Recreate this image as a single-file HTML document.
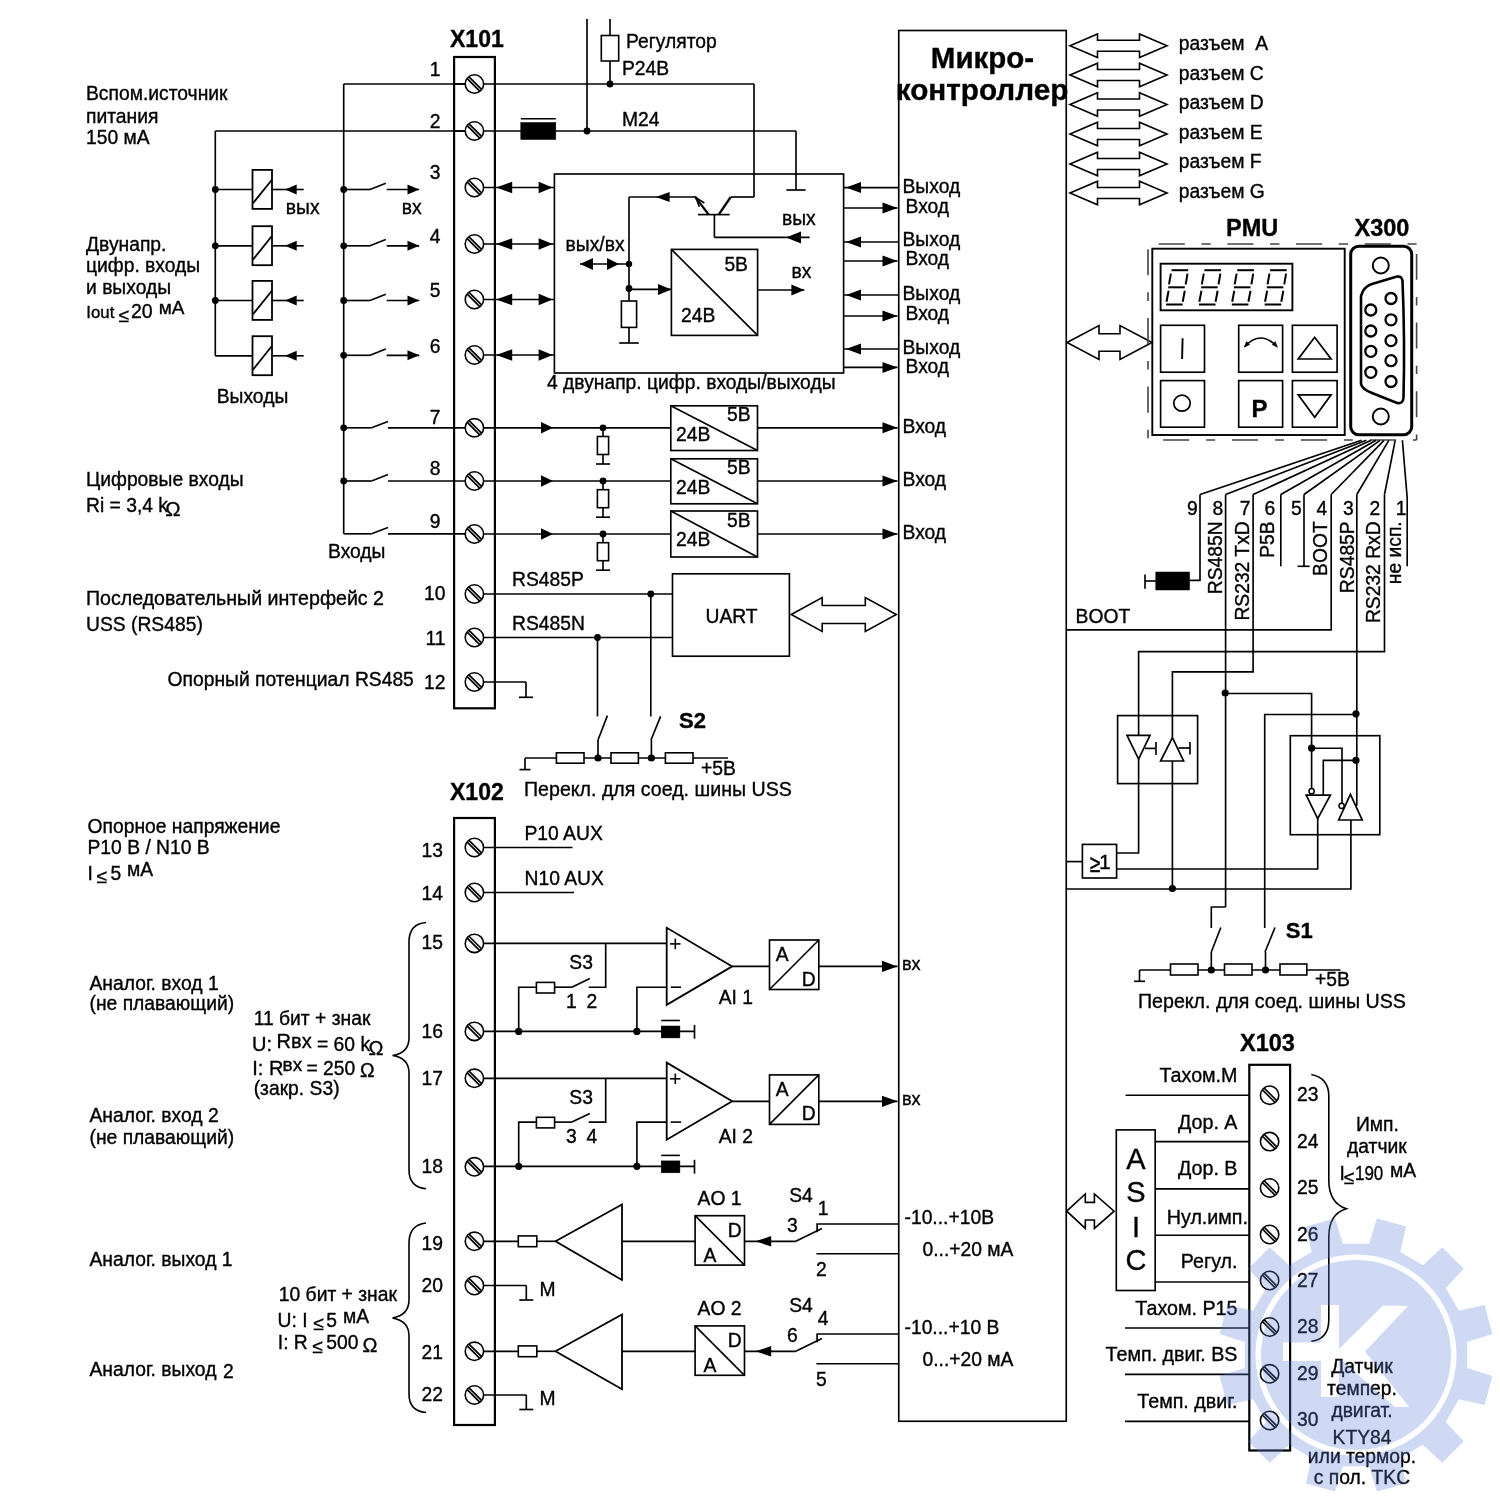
<!DOCTYPE html>
<html><head><meta charset="utf-8"><style>
html,body{margin:0;padding:0;background:#fff;}
svg{display:block;will-change:transform;}
text{font-family:"Liberation Sans",sans-serif;fill:#000;stroke:#000;stroke-width:0.35px;}
</style></head><body>
<svg width="1500" height="1500" viewBox="0 0 1500 1500">
<rect x="0" y="0" width="1500" height="1500" fill="#fff"/>
<g fill="none" stroke="#000" stroke-width="1.65" stroke-linecap="butt">
<text x="86" y="100" font-size="19.3">Вспом.источник</text>
<text x="86" y="122.7" font-size="19.3">питания</text>
<text x="86" y="144" font-size="19.3">150 мА</text>
<text x="86" y="250.7" font-size="19.3">Двунапр.</text>
<text x="86" y="272" font-size="19.3">цифр. входы</text>
<text x="86" y="293.5" font-size="19.3">и выходы</text>
<text x="86.3" y="318" font-size="16.8">Iout</text>
<text x="118.4" y="321.6" font-size="19">≤</text>
<text x="131" y="318.4" font-size="19.5">20</text>
<text x="158.8" y="314.4" font-size="19">мА</text>
<text x="216.7" y="403.3" font-size="19.3">Выходы</text>
<text x="86" y="486" font-size="19.3">Цифровые входы</text>
<text x="86" y="512" font-size="19.3">Ri = 3,4 k</text>
<text x="165.3" y="516" font-size="20.5" font-family="Liberation Serif">Ω</text>
<text x="328" y="557.6" font-size="19.3">Входы</text>
<text x="86" y="605" font-size="19.6">Последовательный интерфейс 2</text>
<text x="86" y="630.5" font-size="19.3">USS (RS485)</text>
<text x="167.5" y="686" font-size="19.3">Опорный потенциал RS485</text>
<text x="450" y="47" font-size="23" font-weight="bold">X101</text>
<rect x="454.1" y="57" width="40.8" height="651.3" stroke-width="2.2"/>
<text x="440.5" y="76" font-size="19.3" text-anchor="end">1</text>
<text x="440.5" y="127.5" font-size="19.3" text-anchor="end">2</text>
<text x="440.5" y="179" font-size="19.3" text-anchor="end">3</text>
<text x="440.5" y="243" font-size="19.3" text-anchor="end">4</text>
<text x="440.5" y="297" font-size="19.3" text-anchor="end">5</text>
<text x="440.5" y="352.5" font-size="19.3" text-anchor="end">6</text>
<text x="440.5" y="424" font-size="19.3" text-anchor="end">7</text>
<text x="440.5" y="475" font-size="19.3" text-anchor="end">8</text>
<text x="440.5" y="527.5" font-size="19.3" text-anchor="end">9</text>
<text x="445.5" y="600" font-size="19.3" text-anchor="end">10</text>
<text x="445.5" y="645" font-size="19.3" text-anchor="end">11</text>
<text x="445.5" y="688.5" font-size="19.3" text-anchor="end">12</text>
<line x1="343.7" y1="84" x2="754" y2="84"/>
<line x1="754" y1="84" x2="754" y2="197"/>
<line x1="610" y1="19" x2="610" y2="35.5"/>
<rect x="601.3" y="35.5" width="17.4" height="25.5" stroke-width="1.6" fill="#fff"/>
<line x1="610" y1="61" x2="610" y2="84"/>
<circle cx="610" cy="84" r="3.4" fill="#000" stroke="none"/>
<text x="626" y="47.5" font-size="19.3">Регулятор</text>
<text x="622" y="75" font-size="19.3">P24B</text>
<line x1="215.3" y1="131" x2="796" y2="131"/>
<line x1="796" y1="131" x2="796" y2="190"/>
<line x1="786.4" y1="190" x2="805.6" y2="190"/>
<line x1="587" y1="19" x2="587" y2="131"/>
<circle cx="587" cy="131" r="3.4" fill="#000" stroke="none"/>
<text x="622" y="126" font-size="19.3">M24</text>
<rect x="520.8" y="122.5" width="35" height="17" stroke-width="0.5" fill="#000"/>
<line x1="520.8" y1="118.8" x2="555.8" y2="118.8" stroke-width="1.5"/>
<line x1="215.3" y1="131" x2="215.3" y2="355.8"/>
<line x1="215.3" y1="355.8" x2="252.5" y2="355.8"/>
<circle cx="215.3" cy="189.5" r="3.4" fill="#000" stroke="none"/>
<line x1="215.3" y1="189.5" x2="252.5" y2="189.5"/>
<circle cx="215.3" cy="245.8" r="3.4" fill="#000" stroke="none"/>
<line x1="215.3" y1="245.8" x2="252.5" y2="245.8"/>
<circle cx="215.3" cy="300.5" r="3.4" fill="#000" stroke="none"/>
<line x1="215.3" y1="300.5" x2="252.5" y2="300.5"/>
<rect x="252.5" y="169.9" width="19.5" height="39" stroke-width="1.8"/>
<line x1="253" y1="203.3" x2="271.7" y2="180" stroke-width="1.8"/>
<line x1="272" y1="189.5" x2="303.7" y2="189.5"/>
<polygon points="285,189.5 296.7,184.5 296.7,194.5" fill="#000" stroke="none"/>
<rect x="252.5" y="226.2" width="19.5" height="39" stroke-width="1.8"/>
<line x1="253" y1="259.6" x2="271.7" y2="236.3" stroke-width="1.8"/>
<line x1="272" y1="245.8" x2="303.7" y2="245.8"/>
<polygon points="285,245.8 296.7,240.8 296.7,250.8" fill="#000" stroke="none"/>
<rect x="252.5" y="280.9" width="19.5" height="39" stroke-width="1.8"/>
<line x1="253" y1="314.3" x2="271.7" y2="291" stroke-width="1.8"/>
<line x1="272" y1="300.5" x2="303.7" y2="300.5"/>
<polygon points="285,300.5 296.7,295.5 296.7,305.5" fill="#000" stroke="none"/>
<rect x="252.5" y="336.2" width="19.5" height="39" stroke-width="1.8"/>
<line x1="253" y1="369.6" x2="271.7" y2="346.3" stroke-width="1.8"/>
<line x1="272" y1="355.8" x2="303.7" y2="355.8"/>
<polygon points="285,355.8 296.7,350.8 296.7,360.8" fill="#000" stroke="none"/>
<text x="285.8" y="213.7" font-size="19.3">вых</text>
<line x1="343.7" y1="84" x2="343.7" y2="533.8"/>
<circle cx="343.7" cy="189.5" r="3.4" fill="#000" stroke="none"/>
<line x1="343.7" y1="189.5" x2="370" y2="189.5"/>
<line x1="370" y1="189.5" x2="385.8" y2="183.3"/>
<line x1="386.7" y1="189.5" x2="419.2" y2="189.5"/>
<polygon points="419.2,189.5 407.5,184.5 407.5,194.5" fill="#000" stroke="none"/>
<circle cx="343.7" cy="245.8" r="3.4" fill="#000" stroke="none"/>
<line x1="343.7" y1="245.8" x2="370" y2="245.8"/>
<line x1="370" y1="245.8" x2="385.8" y2="239.6"/>
<line x1="386.7" y1="245.8" x2="419.2" y2="245.8"/>
<polygon points="419.2,245.8 407.5,240.8 407.5,250.8" fill="#000" stroke="none"/>
<circle cx="343.7" cy="300.5" r="3.4" fill="#000" stroke="none"/>
<line x1="343.7" y1="300.5" x2="370" y2="300.5"/>
<line x1="370" y1="300.5" x2="385.8" y2="294.3"/>
<line x1="386.7" y1="300.5" x2="419.2" y2="300.5"/>
<polygon points="419.2,300.5 407.5,295.5 407.5,305.5" fill="#000" stroke="none"/>
<circle cx="343.7" cy="355.3" r="3.4" fill="#000" stroke="none"/>
<line x1="343.7" y1="355.3" x2="370" y2="355.3"/>
<line x1="370" y1="355.3" x2="385.8" y2="349.1"/>
<line x1="386.7" y1="355.3" x2="419.2" y2="355.3"/>
<polygon points="419.2,355.3 407.5,350.3 407.5,360.3" fill="#000" stroke="none"/>
<text x="401.7" y="214" font-size="19.3">вх</text>
<circle cx="343.7" cy="427.8" r="3.4" fill="#000" stroke="none"/>
<line x1="343.7" y1="427.8" x2="371.6" y2="427.8"/>
<line x1="371.6" y1="427.8" x2="388" y2="421.4"/>
<line x1="388" y1="427.8" x2="466" y2="427.8"/>
<circle cx="343.7" cy="481" r="3.4" fill="#000" stroke="none"/>
<line x1="343.7" y1="481" x2="371.6" y2="481"/>
<line x1="371.6" y1="481" x2="388" y2="474.6"/>
<line x1="388" y1="481" x2="466" y2="481"/>
<line x1="343.7" y1="533.8" x2="371.6" y2="533.8"/>
<line x1="371.6" y1="533.8" x2="388" y2="527.4"/>
<line x1="388" y1="533.8" x2="466" y2="533.8"/>
<line x1="343.7" y1="533.8" x2="343.7" y2="533.8"/>
<circle cx="474.4" cy="84" r="9.2" stroke-width="1.6" fill="#fff"/>
<line x1="467.26" y1="78.63" x2="479.77" y2="91.14" stroke-width="1.7"/>
<line x1="469.03" y1="76.86" x2="481.54" y2="89.37" stroke-width="1.7"/>
<circle cx="474.4" cy="131" r="9.2" stroke-width="1.6" fill="#fff"/>
<line x1="467.26" y1="125.63" x2="479.77" y2="138.14" stroke-width="1.7"/>
<line x1="469.03" y1="123.86" x2="481.54" y2="136.37" stroke-width="1.7"/>
<circle cx="474.4" cy="187.5" r="9.2" stroke-width="1.6" fill="#fff"/>
<line x1="467.26" y1="182.13" x2="479.77" y2="194.64" stroke-width="1.7"/>
<line x1="469.03" y1="180.36" x2="481.54" y2="192.87" stroke-width="1.7"/>
<circle cx="474.4" cy="244" r="9.2" stroke-width="1.6" fill="#fff"/>
<line x1="467.26" y1="238.63" x2="479.77" y2="251.14" stroke-width="1.7"/>
<line x1="469.03" y1="236.86" x2="481.54" y2="249.37" stroke-width="1.7"/>
<circle cx="474.4" cy="299.5" r="9.2" stroke-width="1.6" fill="#fff"/>
<line x1="467.26" y1="294.13" x2="479.77" y2="306.64" stroke-width="1.7"/>
<line x1="469.03" y1="292.36" x2="481.54" y2="304.87" stroke-width="1.7"/>
<circle cx="474.4" cy="355" r="9.2" stroke-width="1.6" fill="#fff"/>
<line x1="467.26" y1="349.63" x2="479.77" y2="362.14" stroke-width="1.7"/>
<line x1="469.03" y1="347.86" x2="481.54" y2="360.37" stroke-width="1.7"/>
<circle cx="474.4" cy="427.8" r="9.2" stroke-width="1.6" fill="#fff"/>
<line x1="467.26" y1="422.43" x2="479.77" y2="434.94" stroke-width="1.7"/>
<line x1="469.03" y1="420.66" x2="481.54" y2="433.17" stroke-width="1.7"/>
<circle cx="474.4" cy="481" r="9.2" stroke-width="1.6" fill="#fff"/>
<line x1="467.26" y1="475.63" x2="479.77" y2="488.14" stroke-width="1.7"/>
<line x1="469.03" y1="473.86" x2="481.54" y2="486.37" stroke-width="1.7"/>
<circle cx="474.4" cy="534" r="9.2" stroke-width="1.6" fill="#fff"/>
<line x1="467.26" y1="528.63" x2="479.77" y2="541.14" stroke-width="1.7"/>
<line x1="469.03" y1="526.86" x2="481.54" y2="539.37" stroke-width="1.7"/>
<circle cx="474.4" cy="594" r="9.2" stroke-width="1.6" fill="#fff"/>
<line x1="467.26" y1="588.63" x2="479.77" y2="601.14" stroke-width="1.7"/>
<line x1="469.03" y1="586.86" x2="481.54" y2="599.37" stroke-width="1.7"/>
<circle cx="474.4" cy="637.5" r="9.2" stroke-width="1.6" fill="#fff"/>
<line x1="467.26" y1="632.13" x2="479.77" y2="644.64" stroke-width="1.7"/>
<line x1="469.03" y1="630.36" x2="481.54" y2="642.87" stroke-width="1.7"/>
<circle cx="474.4" cy="682" r="9.2" stroke-width="1.6" fill="#fff"/>
<line x1="467.26" y1="676.63" x2="479.77" y2="689.14" stroke-width="1.7"/>
<line x1="469.03" y1="674.86" x2="481.54" y2="687.37" stroke-width="1.7"/>
<line x1="483.6" y1="187.5" x2="554.4" y2="187.5"/>
<polygon points="496.2,187.5 512.2,181.7 512.2,193.3" fill="#000" stroke="none"/>
<polygon points="552.6,187.5 538.6,181.7 538.6,193.3" fill="#000" stroke="none"/>
<line x1="483.6" y1="244" x2="554.4" y2="244"/>
<polygon points="496.2,244 512.2,238.2 512.2,249.8" fill="#000" stroke="none"/>
<polygon points="552.6,244 538.6,238.2 538.6,249.8" fill="#000" stroke="none"/>
<line x1="483.6" y1="299.5" x2="554.4" y2="299.5"/>
<polygon points="496.2,299.5 512.2,293.7 512.2,305.3" fill="#000" stroke="none"/>
<polygon points="552.6,299.5 538.6,293.7 538.6,305.3" fill="#000" stroke="none"/>
<line x1="483.6" y1="355" x2="554.4" y2="355"/>
<polygon points="496.2,355 512.2,349.2 512.2,360.8" fill="#000" stroke="none"/>
<polygon points="552.6,355 538.6,349.2 538.6,360.8" fill="#000" stroke="none"/>
<line x1="454" y1="84" x2="465.2" y2="84"/>
<line x1="454" y1="131" x2="465.2" y2="131"/>
<line x1="483.6" y1="427.8" x2="670.8" y2="427.8"/>
<polygon points="553,427.8 541,422 541,433.6" fill="#000" stroke="none"/>
<circle cx="603" cy="427.8" r="3.4" fill="#000" stroke="none"/>
<line x1="603" y1="427.8" x2="603" y2="436.5"/>
<rect x="597.4" y="436.5" width="11.2" height="18" stroke-width="1.6" fill="#fff"/>
<line x1="603" y1="454.5" x2="603" y2="464"/>
<line x1="596" y1="464" x2="610" y2="464"/>
<line x1="483.6" y1="481" x2="670.8" y2="481"/>
<polygon points="553,481 541,475.2 541,486.8" fill="#000" stroke="none"/>
<circle cx="603" cy="481" r="3.4" fill="#000" stroke="none"/>
<line x1="603" y1="481" x2="603" y2="489.7"/>
<rect x="597.4" y="489.7" width="11.2" height="18" stroke-width="1.6" fill="#fff"/>
<line x1="603" y1="507.7" x2="603" y2="517.2"/>
<line x1="596" y1="517.2" x2="610" y2="517.2"/>
<line x1="483.6" y1="534" x2="670.8" y2="534"/>
<polygon points="553,534 541,528.2 541,539.8" fill="#000" stroke="none"/>
<circle cx="603" cy="534" r="3.4" fill="#000" stroke="none"/>
<line x1="603" y1="534" x2="603" y2="542.7"/>
<rect x="597.4" y="542.7" width="11.2" height="18" stroke-width="1.6" fill="#fff"/>
<line x1="603" y1="560.7" x2="603" y2="570.2"/>
<line x1="596" y1="570.2" x2="610" y2="570.2"/>
<rect x="670.8" y="405.8" width="86.7" height="44.7"/>
<line x1="670.8" y1="405.8" x2="757.5" y2="450.5"/>
<text x="727" y="421.3" font-size="19.3">5B</text>
<text x="676" y="440.8" font-size="19.3">24B</text>
<line x1="757.5" y1="427.8" x2="897.5" y2="427.8"/>
<polygon points="897.5,427.8 882.5,422.3 882.5,433.3" fill="#000" stroke="none"/>
<text x="902.5" y="432.5" font-size="19.3">Вход</text>
<rect x="670.8" y="458.8" width="86.7" height="45"/>
<line x1="670.8" y1="458.8" x2="757.5" y2="503.8"/>
<text x="727" y="474.3" font-size="19.3">5B</text>
<text x="676" y="493.8" font-size="19.3">24B</text>
<line x1="757.5" y1="481" x2="897.5" y2="481"/>
<polygon points="897.5,481 882.5,475.5 882.5,486.5" fill="#000" stroke="none"/>
<text x="902.5" y="485.7" font-size="19.3">Вход</text>
<rect x="670.8" y="511" width="86.7" height="46"/>
<line x1="670.8" y1="511" x2="757.5" y2="557"/>
<text x="727" y="526.5" font-size="19.3">5B</text>
<text x="676" y="546" font-size="19.3">24B</text>
<line x1="757.5" y1="534" x2="897.5" y2="534"/>
<polygon points="897.5,534 882.5,528.5 882.5,539.5" fill="#000" stroke="none"/>
<text x="902.5" y="538.7" font-size="19.3">Вход</text>
<line x1="483.6" y1="594" x2="672.5" y2="594"/>
<line x1="483.6" y1="637.5" x2="672.5" y2="637.5"/>
<circle cx="650.8" cy="594" r="3.4" fill="#000" stroke="none"/>
<circle cx="597.5" cy="637.5" r="3.4" fill="#000" stroke="none"/>
<line x1="650.8" y1="594" x2="650.8" y2="716.4"/>
<line x1="597.5" y1="637.5" x2="597.5" y2="716.4"/>
<text x="512" y="586" font-size="19.3">RS485P</text>
<text x="512" y="630" font-size="19.3">RS485N</text>
<rect x="672.5" y="573.8" width="116.9" height="82.4"/>
<text x="705.5" y="622.5" font-size="19.3">UART</text>
<polygon points="791.2,614.5 822.2,597.5 822.2,605.5 865.3,605.5 865.3,597.5 896.3,614.5 865.3,631.5 865.3,623.5 822.2,623.5 822.2,631.5" fill="#fff" stroke-width="1.6"/>
<line x1="483.6" y1="682" x2="526" y2="682"/>
<line x1="526" y1="682" x2="526" y2="697.3"/>
<line x1="519" y1="697.3" x2="533" y2="697.3"/>
<line x1="598" y1="740" x2="607.4" y2="715.6"/>
<line x1="651" y1="740" x2="660.6" y2="716.4"/>
<line x1="598" y1="740" x2="598" y2="758"/>
<line x1="651.4" y1="740" x2="651.4" y2="758"/>
<line x1="525" y1="758" x2="728" y2="758"/>
<line x1="525" y1="758" x2="525" y2="769.6"/>
<line x1="519.5" y1="769.6" x2="530.5" y2="769.6"/>
<rect x="556.4" y="752.8" width="27.6" height="10.4" stroke-width="1.6" fill="#fff"/>
<rect x="611" y="752.8" width="27.4" height="10.4" stroke-width="1.6" fill="#fff"/>
<rect x="665.4" y="752.8" width="27.6" height="10.4" stroke-width="1.6" fill="#fff"/>
<circle cx="598" cy="758" r="3.6" fill="#000" stroke="none"/>
<circle cx="651.4" cy="758" r="3.6" fill="#000" stroke="none"/>
<text x="679" y="728" font-size="22" font-weight="bold">S2</text>
<text x="701" y="775" font-size="19.3">+5B</text>
<text x="524" y="795.5" font-size="19.6">Перекл. для соед. шины USS</text>
<rect x="554.4" y="174" width="289.2" height="199"/>
<text x="547" y="388.6" font-size="19.3">4 двунапр. цифр. входы/выходы</text>
<line x1="629" y1="197" x2="629" y2="301"/>
<line x1="629" y1="197" x2="696" y2="197"/>
<polygon points="656,197 669.6,192 669.6,202" fill="#000" stroke="none"/>
<line x1="695.3" y1="197" x2="708.7" y2="214.6" stroke-width="2.3"/>
<polyline points="699.3,206.7 696,197.7 704.3,203" stroke-width="1.6"/>
<line x1="698" y1="214.6" x2="729.6" y2="214.6"/>
<line x1="718.7" y1="214.6" x2="730.7" y2="197" stroke-width="2.3"/>
<line x1="731" y1="197" x2="754" y2="197"/>
<line x1="714.4" y1="214.6" x2="714.4" y2="237.4"/>
<line x1="714.4" y1="237.4" x2="809.6" y2="237.4"/>
<polygon points="786,237.4 801,231.4 801,243.4" fill="#000" stroke="none"/>
<text x="782" y="225" font-size="19.3">вых</text>
<text x="565.6" y="251" font-size="19.3">вых/вх</text>
<line x1="580" y1="264" x2="629" y2="264"/>
<polygon points="580,264 593,258 593,270" fill="#000" stroke="none"/>
<polygon points="619,264 607,258 607,270" fill="#000" stroke="none"/>
<circle cx="629" cy="264" r="3.2" fill="#000" stroke="none"/>
<circle cx="629" cy="288.5" r="3.4" fill="#000" stroke="none"/>
<line x1="629" y1="289.4" x2="671.4" y2="289.4"/>
<polygon points="671.4,289.4 658,283.9 658,294.9" fill="#000" stroke="none"/>
<rect x="621.4" y="301" width="15.2" height="26.4" stroke-width="1.6" fill="#fff"/>
<line x1="629" y1="327.4" x2="629" y2="343"/>
<line x1="619.2" y1="343" x2="638.8" y2="343"/>
<rect x="671.4" y="249.4" width="86.2" height="86"/>
<line x1="671.4" y1="249.4" x2="757.6" y2="335.4"/>
<text x="724.4" y="270.6" font-size="19.3">5B</text>
<text x="681" y="322" font-size="19.3">24B</text>
<line x1="757.6" y1="290" x2="804.4" y2="290"/>
<polygon points="804.4,290 791.4,284.5 791.4,295.5" fill="#000" stroke="none"/>
<text x="791.6" y="278" font-size="19.3">вх</text>
<line x1="843.6" y1="187.6" x2="898.75" y2="187.6"/>
<polygon points="846,187.6 861,182.1 861,193.1" fill="#000" stroke="none"/>
<line x1="843.6" y1="208" x2="897.5" y2="208"/>
<polygon points="897.5,208 882.5,202.5 882.5,213.5" fill="#000" stroke="none"/>
<text x="902.5" y="193.2" font-size="19.3">Выход</text>
<text x="905.5" y="213.2" font-size="19.3">Вход</text>
<line x1="843.6" y1="242" x2="898.75" y2="242"/>
<polygon points="846,242 861,236.5 861,247.5" fill="#000" stroke="none"/>
<line x1="843.6" y1="261" x2="897.5" y2="261"/>
<polygon points="897.5,261 882.5,255.5 882.5,266.5" fill="#000" stroke="none"/>
<text x="902.5" y="245.7" font-size="19.3">Выход</text>
<text x="905.5" y="265.2" font-size="19.3">Вход</text>
<line x1="843.6" y1="295" x2="898.75" y2="295"/>
<polygon points="846,295 861,289.5 861,300.5" fill="#000" stroke="none"/>
<line x1="843.6" y1="316" x2="897.5" y2="316"/>
<polygon points="897.5,316 882.5,310.5 882.5,321.5" fill="#000" stroke="none"/>
<text x="902.5" y="299.7" font-size="19.3">Выход</text>
<text x="905.5" y="319.7" font-size="19.3">Вход</text>
<line x1="843.6" y1="349" x2="898.75" y2="349"/>
<polygon points="846,349 861,343.5 861,354.5" fill="#000" stroke="none"/>
<line x1="843.6" y1="367.4" x2="897.5" y2="367.4"/>
<polygon points="897.5,367.4 882.5,361.9 882.5,372.9" fill="#000" stroke="none"/>
<text x="902.5" y="354.2" font-size="19.3">Выход</text>
<text x="905.5" y="373.2" font-size="19.3">Вход</text>
<rect x="898.75" y="30.5" width="167.5" height="1390.75"/>
<text x="982.5" y="67.5" font-size="29.5" text-anchor="middle" font-weight="bold">Микро-</text>
<text x="982" y="100" font-size="29.7" text-anchor="middle" font-weight="bold">контроллер</text>
<polygon points="1070,45.75 1097.5,34 1097.5,40.25 1139.5,40.25 1139.5,34 1167,45.75 1139.5,57.5 1139.5,51.25 1097.5,51.25 1097.5,57.5" fill="#fff" stroke-width="1.6"/>
<text x="1178.75" y="50" font-size="19.3">разъем  A</text>
<polygon points="1070,75 1097.5,63.25 1097.5,69.5 1139.5,69.5 1139.5,63.25 1167,75 1139.5,86.75 1139.5,80.5 1097.5,80.5 1097.5,86.75" fill="#fff" stroke-width="1.6"/>
<text x="1178.75" y="79.5" font-size="19.3">разъем C</text>
<polygon points="1070,104.5 1097.5,92.75 1097.5,99 1139.5,99 1139.5,92.75 1167,104.5 1139.5,116.25 1139.5,110 1097.5,110 1097.5,116.25" fill="#fff" stroke-width="1.6"/>
<text x="1178.75" y="109.2" font-size="19.3">разъем D</text>
<polygon points="1070,134 1097.5,122.25 1097.5,128.5 1139.5,128.5 1139.5,122.25 1167,134 1139.5,145.75 1139.5,139.5 1097.5,139.5 1097.5,145.75" fill="#fff" stroke-width="1.6"/>
<text x="1178.75" y="138.7" font-size="19.3">разъем E</text>
<polygon points="1070,164 1097.5,152.25 1097.5,158.5 1139.5,158.5 1139.5,152.25 1167,164 1139.5,175.75 1139.5,169.5 1097.5,169.5 1097.5,175.75" fill="#fff" stroke-width="1.6"/>
<text x="1178.75" y="168" font-size="19.3">разъем F</text>
<polygon points="1070,193 1097.5,181.25 1097.5,187.5 1139.5,187.5 1139.5,181.25 1167,193 1139.5,204.75 1139.5,198.5 1097.5,198.5 1097.5,204.75" fill="#fff" stroke-width="1.6"/>
<text x="1178.75" y="197.5" font-size="19.3">разъем G</text>
<polygon points="1067,342.5 1099,325.5 1099,333.7 1120,333.7 1120,325.5 1152,342.5 1120,359.5 1120,351.3 1099,351.3 1099,359.5" fill="#fff" stroke-width="1.6"/>
<text x="1226" y="235.5" font-size="23.5" font-weight="bold">PMU</text>
<text x="1354.5" y="235.5" font-size="23.5" font-weight="bold">X300</text>
<line x1="1148" y1="244" x2="1416.6" y2="244" stroke-width="1.6" stroke="#444" stroke-dasharray="9.3 16.7 26.1 16.6" stroke-dashoffset="15.3"/>
<line x1="1416.6" y1="244" x2="1416.6" y2="440" stroke-width="1.6" stroke="#444" stroke-dasharray="25.9 17.2 8.4 17.2" stroke-dashoffset="58.8"/>
<line x1="1148" y1="440" x2="1416.6" y2="440" stroke-width="1.6" stroke="#444" stroke-dasharray="26.1 17 8.8 17" stroke-dashoffset="53.8"/>
<line x1="1148" y1="244" x2="1148" y2="440" stroke-width="1.6" stroke="#444" stroke-dasharray="26.1 17 8.6 17" stroke-dashoffset="63.5"/>
<rect x="1152.3" y="248.7" width="192.4" height="186.3" stroke-width="1.9"/>
<rect x="1160.6" y="263.7" width="131.8" height="46.6" stroke-width="1.9"/>
<line x1="1171.5" y1="270.2" x2="1188.2" y2="270.2" stroke-width="2"/>
<line x1="1168.3" y1="287.3" x2="1184.8" y2="287.3" stroke-width="2"/>
<line x1="1166.1" y1="304.5" x2="1182.7" y2="304.5" stroke-width="2"/>
<line x1="1170.9" y1="273.6" x2="1169" y2="284.3" stroke-width="2"/>
<line x1="1187.5" y1="273.6" x2="1185.7" y2="284.3" stroke-width="2"/>
<line x1="1168.6" y1="290.7" x2="1166.5" y2="301.7" stroke-width="2"/>
<line x1="1184.8" y1="290.7" x2="1182.7" y2="301.7" stroke-width="2"/>
<line x1="1204.35" y1="270.2" x2="1221.05" y2="270.2" stroke-width="2"/>
<line x1="1201.15" y1="287.3" x2="1217.65" y2="287.3" stroke-width="2"/>
<line x1="1198.95" y1="304.5" x2="1215.55" y2="304.5" stroke-width="2"/>
<line x1="1203.75" y1="273.6" x2="1201.85" y2="284.3" stroke-width="2"/>
<line x1="1220.35" y1="273.6" x2="1218.55" y2="284.3" stroke-width="2"/>
<line x1="1201.45" y1="290.7" x2="1199.35" y2="301.7" stroke-width="2"/>
<line x1="1217.65" y1="290.7" x2="1215.55" y2="301.7" stroke-width="2"/>
<line x1="1237.2" y1="270.2" x2="1253.9" y2="270.2" stroke-width="2"/>
<line x1="1234" y1="287.3" x2="1250.5" y2="287.3" stroke-width="2"/>
<line x1="1231.8" y1="304.5" x2="1248.4" y2="304.5" stroke-width="2"/>
<line x1="1236.6" y1="273.6" x2="1234.7" y2="284.3" stroke-width="2"/>
<line x1="1253.2" y1="273.6" x2="1251.4" y2="284.3" stroke-width="2"/>
<line x1="1234.3" y1="290.7" x2="1232.2" y2="301.7" stroke-width="2"/>
<line x1="1250.5" y1="290.7" x2="1248.4" y2="301.7" stroke-width="2"/>
<line x1="1270.05" y1="270.2" x2="1286.75" y2="270.2" stroke-width="2"/>
<line x1="1266.85" y1="287.3" x2="1283.35" y2="287.3" stroke-width="2"/>
<line x1="1264.65" y1="304.5" x2="1281.25" y2="304.5" stroke-width="2"/>
<line x1="1269.45" y1="273.6" x2="1267.55" y2="284.3" stroke-width="2"/>
<line x1="1286.05" y1="273.6" x2="1284.25" y2="284.3" stroke-width="2"/>
<line x1="1267.15" y1="290.7" x2="1265.05" y2="301.7" stroke-width="2"/>
<line x1="1283.35" y1="290.7" x2="1281.25" y2="301.7" stroke-width="2"/>
<rect x="1160.6" y="325.3" width="43.9" height="46.9"/>
<rect x="1160.6" y="380.6" width="43.9" height="46.6"/>
<rect x="1238.7" y="325.3" width="43.9" height="46.9"/>
<rect x="1238.7" y="380.6" width="43.9" height="46.6"/>
<rect x="1292.4" y="325.3" width="44.7" height="46.9"/>
<rect x="1292.4" y="380.6" width="44.7" height="46.6"/>
<line x1="1182.6" y1="338.2" x2="1182.1" y2="358.9" stroke-width="1.9"/>
<path d="M1245.3,346 Q1260.5,330 1276.4,346" stroke-width="1.7"/>
<polygon points="1244.2,347.2 1246.6,341.5 1249.6,344.6" fill="#000" stroke-width="0.6"/>
<polygon points="1277.4,347.2 1275.2,341.5 1272.2,344.6" fill="#000" stroke-width="0.6"/>
<polygon points="1314.7,337.3 1298.2,359 1331.1,359" fill="none" stroke-width="1.7"/>
<polygon points="1298.2,394.8 1331.1,394.8 1314.7,417.2" fill="none" stroke-width="1.7"/>
<ellipse cx="1182" cy="403.2" rx="8.2" ry="8" stroke-width="1.7"/>
<text x="1251.5" y="417" font-size="24" font-weight="bold">P</text>
<rect x="1350.7" y="246.3" width="61" height="188.4" stroke-width="3" rx="8"/>
<circle cx="1380.8" cy="265.5" r="8" stroke-width="2"/>
<circle cx="1380.8" cy="416.5" r="8" stroke-width="2"/>
<path d="M1363,291 Q1366,286 1372,284 L1397,276.5 Q1402,276 1402.5,281 Q1405,340 1403.5,398 Q1403,404 1397,403 L1372,393 Q1362,389 1361,384 L1361,296 Z" stroke-width="2.6"/>
<circle cx="1391" cy="298.5" r="5.5" stroke-width="2.3"/>
<circle cx="1391" cy="319.8" r="5.5" stroke-width="2.3"/>
<circle cx="1391" cy="340.6" r="5.5" stroke-width="2.3"/>
<circle cx="1391" cy="360.7" r="5.5" stroke-width="2.3"/>
<circle cx="1391" cy="381.5" r="5.5" stroke-width="2.3"/>
<circle cx="1370.8" cy="310" r="5.5" stroke-width="2.3"/>
<circle cx="1370.8" cy="331" r="5.5" stroke-width="2.3"/>
<circle cx="1370.8" cy="351.3" r="5.5" stroke-width="2.3"/>
<circle cx="1370.8" cy="372.3" r="5.5" stroke-width="2.3"/>
<line x1="1361.6" y1="440.3" x2="1200" y2="494.5"/>
<line x1="1366.4" y1="440.3" x2="1225.6" y2="494.5"/>
<line x1="1371.2" y1="440.3" x2="1253.1" y2="494.5"/>
<line x1="1376" y1="440.3" x2="1280.8" y2="494.5"/>
<line x1="1380" y1="440.3" x2="1304" y2="494.5"/>
<line x1="1384" y1="440.3" x2="1331.2" y2="494.5"/>
<line x1="1388.8" y1="440.3" x2="1356.8" y2="494.5"/>
<line x1="1395.2" y1="440.3" x2="1384.5" y2="494.5"/>
<line x1="1402.4" y1="440.3" x2="1407.2" y2="498"/>
<polyline points="1200,494.5 1200,580.4 1189.6,580.4"/>
<rect x="1155.8" y="572" width="33.8" height="18" stroke-width="0.5" fill="#000"/>
<line x1="1155.8" y1="581" x2="1145" y2="581"/>
<line x1="1145" y1="574.5" x2="1145" y2="588.8"/>
<line x1="1225.6" y1="494.5" x2="1225.6" y2="907"/>
<polyline points="1225.6,907 1211.3,907 1211.3,928"/>
<circle cx="1225.2" cy="693" r="3.6" fill="#000" stroke="none"/>
<polyline points="1225.2,693.5 1311.6,693.5 1311.6,788.6"/>
<circle cx="1311.6" cy="748.2" r="3.6" fill="#000" stroke="none"/>
<polyline points="1311.6,748.2 1342,748.2 1342,803.2"/>
<polyline points="1253.1,494.5 1253.1,671.8 1172.4,671.8 1172.4,737.6"/>
<line x1="1280.8" y1="494.5" x2="1280.8" y2="566.3"/>
<line x1="1304" y1="494.5" x2="1304" y2="566.3"/>
<line x1="1297.6" y1="566.3" x2="1309.6" y2="566.3"/>
<polyline points="1331.2,494.5 1331.2,629.8 1066.25,629.8"/>
<text x="1075.6" y="623" font-size="19.3">BOOT</text>
<line x1="1356.8" y1="494.5" x2="1356.8" y2="806"/>
<circle cx="1356" cy="713.8" r="3.6" fill="#000" stroke="none"/>
<circle cx="1356" cy="760.4" r="3.6" fill="#000" stroke="none"/>
<polyline points="1356,714.5 1264.7,714.5 1264.7,928"/>
<polyline points="1356,760.4 1323.3,760.4 1323.3,795.1"/>
<polyline points="1384.5,494.5 1384.5,651.6 1138.6,651.6 1138.6,735.4"/>
<line x1="1407.2" y1="498" x2="1407.2" y2="566.3"/>
<text x="1187" y="514.8" font-size="19.3">9</text>
<text x="1212.6" y="514.8" font-size="19.3">8</text>
<text x="1239.8" y="514.8" font-size="19.3">7</text>
<text x="1264.6" y="514.8" font-size="19.3">6</text>
<text x="1291" y="514.8" font-size="19.3">5</text>
<text x="1316.6" y="514.8" font-size="19.3">4</text>
<text x="1343" y="514.8" font-size="19.3">3</text>
<text x="1369.4" y="514.8" font-size="19.3">2</text>
<text x="1395.8" y="514.8" font-size="19.3">1</text>
<text transform="translate(1222.4 521.3) rotate(-90)" font-size="19.3" text-anchor="end">RS485N</text>
<text transform="translate(1249 521.3) rotate(-90)" font-size="19.3" text-anchor="end">RS232 TxD</text>
<text transform="translate(1273.6 521.3) rotate(-90)" font-size="19.3" text-anchor="end">P5B</text>
<text transform="translate(1327.2 521.3) rotate(-90)" font-size="19.3" text-anchor="end">BOOT</text>
<text transform="translate(1353.6 521.3) rotate(-90)" font-size="19.3" text-anchor="end">RS485P</text>
<text transform="translate(1380 521.3) rotate(-90)" font-size="19.3" text-anchor="end">RS232 RxD</text>
<text transform="translate(1400.5 521.3) rotate(-90)" font-size="19.3" text-anchor="end">не исп.</text>
<rect x="1117.6" y="715.6" width="80" height="68"/>
<polygon points="1127,735.4 1150,735.4 1138.6,759" fill="none" stroke-width="1.7"/>
<line x1="1145" y1="748.4" x2="1156" y2="748.4"/>
<line x1="1156" y1="742" x2="1156" y2="755"/>
<polygon points="1160.6,761 1183.6,761 1172.4,737.6" fill="none" stroke-width="1.7"/>
<line x1="1178.5" y1="748" x2="1190" y2="748"/>
<line x1="1190" y1="742" x2="1190" y2="754.5"/>
<polyline points="1138.6,759 1138.6,853 1116.6,853"/>
<line x1="1172.4" y1="761" x2="1172.4" y2="888.5"/>
<circle cx="1172.4" cy="888.5" r="3.6" fill="#000" stroke="none"/>
<rect x="1082.4" y="844.4" width="34.2" height="33.6"/>
<line x1="1066.25" y1="861.6" x2="1082.4" y2="861.6"/>
<text transform="translate(1089.8 871.5) scale(1 1.3)" font-size="19">≥</text>
<text x="1099" y="869" font-size="21">1</text>
<polyline points="1116.6,869 1317.7,869 1317.7,818.6"/>
<polyline points="1066.25,889 1350.9,889 1350.9,820"/>
<rect x="1290.3" y="735.7" width="89.5" height="99"/>
<polygon points="1306.2,795.1 1330.4,795.1 1317.7,818.6" fill="none" stroke-width="1.7"/>
<circle cx="1311.6" cy="791.2" r="2.6" stroke-width="1.5" fill="#fff"/>
<polygon points="1338.7,820 1362.2,820 1350.4,794.4" fill="none" stroke-width="1.7"/>
<circle cx="1341.6" cy="805.8" r="2.6" stroke-width="1.5" fill="#fff"/>
<line x1="1211.3" y1="952" x2="1220.8" y2="927.5"/>
<line x1="1265" y1="952" x2="1275" y2="927.5"/>
<line x1="1211.3" y1="952" x2="1211.3" y2="970"/>
<line x1="1265.5" y1="952" x2="1265.5" y2="970"/>
<line x1="1139.5" y1="970" x2="1340.5" y2="970"/>
<line x1="1139.5" y1="970" x2="1139.5" y2="981.3"/>
<line x1="1134" y1="981.3" x2="1145" y2="981.3"/>
<rect x="1170.5" y="964" width="27.5" height="11" stroke-width="1.6" fill="#fff"/>
<rect x="1224.5" y="964" width="27.5" height="11" stroke-width="1.6" fill="#fff"/>
<rect x="1280" y="964" width="26.8" height="11" stroke-width="1.6" fill="#fff"/>
<circle cx="1211.3" cy="970" r="3.6" fill="#000" stroke="none"/>
<circle cx="1265.5" cy="970" r="3.6" fill="#000" stroke="none"/>
<text x="1285.8" y="938" font-size="22" font-weight="bold">S1</text>
<text x="1315" y="986.3" font-size="19.3">+5B</text>
<text x="1138" y="1007.5" font-size="19.6">Перекл. для соед. шины USS</text>
<text x="450" y="799.5" font-size="23" font-weight="bold">X102</text>
<rect x="454.1" y="818" width="40.8" height="607" stroke-width="2.2"/>
<text x="443" y="857" font-size="19.3" text-anchor="end">13</text>
<text x="443" y="900" font-size="19.3" text-anchor="end">14</text>
<text x="443" y="948.8" font-size="19.3" text-anchor="end">15</text>
<text x="443" y="1038" font-size="19.3" text-anchor="end">16</text>
<text x="443" y="1084.5" font-size="19.3" text-anchor="end">17</text>
<text x="443" y="1173.3" font-size="19.3" text-anchor="end">18</text>
<text x="443" y="1249.5" font-size="19.3" text-anchor="end">19</text>
<text x="443" y="1292" font-size="19.3" text-anchor="end">20</text>
<text x="443" y="1358.8" font-size="19.3" text-anchor="end">21</text>
<text x="443" y="1401.3" font-size="19.3" text-anchor="end">22</text>
<text x="87.5" y="832.5" font-size="19.3">Опорное напряжение</text>
<text x="87.5" y="854" font-size="19.3">P10 B / N10 B</text>
<text x="87.5" y="880.1" font-size="19.3">I</text>
<text x="96.5" y="882.5" font-size="19">≤</text>
<text x="110.5" y="879.7" font-size="19.3">5</text>
<text x="127" y="875.9" font-size="19.3">мА</text>
<text x="89.5" y="989.5" font-size="19.3">Аналог. вход 1</text>
<text x="89.5" y="1010" font-size="19.3">(не плавающий)</text>
<text x="253.7" y="1024.5" font-size="19.3">11 бит + знак</text>
<text x="252" y="1051.3" font-size="20">U:</text>
<text x="276.6" y="1047.8" font-size="20">Rвх</text>
<text x="317" y="1051" font-size="19.3">= 60 k</text>
<text x="368.5" y="1054.8" font-size="20" font-family="Liberation Serif">Ω</text>
<text x="252.3" y="1074.9" font-size="20">I: R</text>
<text x="282.6" y="1070.9" font-size="19">вх</text>
<text x="306.5" y="1074.6" font-size="19.3">= 250</text>
<text x="360" y="1077" font-size="19.5" font-family="Liberation Serif">Ω</text>
<text x="253.7" y="1095" font-size="19.3">(закр. S3)</text>
<text x="89.5" y="1122" font-size="19.3">Аналог. вход 2</text>
<text x="89.5" y="1143.8" font-size="19.3">(не плавающий)</text>
<text x="89.5" y="1266.3" font-size="19.3">Аналог. выход 1</text>
<text x="278.8" y="1301.3" font-size="19.3">10 бит + знак</text>
<text x="277.5" y="1326.8" font-size="19.3">U: I</text>
<text x="313.2" y="1329.8" font-size="19">≤</text>
<text x="326.2" y="1326.8" font-size="19.3">5</text>
<text x="343" y="1322.9" font-size="19.3">мА</text>
<text x="277.8" y="1349.3" font-size="19.3">I: R</text>
<text x="312.3" y="1352.8" font-size="19">≤</text>
<text x="326.2" y="1349.3" font-size="19.3">500</text>
<text x="362.5" y="1352.4" font-size="20" font-family="Liberation Serif">Ω</text>
<text x="89.5" y="1376.3" font-size="19.3">Аналог. выход</text>
<text x="223" y="1378" font-size="19.3">2</text>
<path d="M426,922.5 Q409,924 409,942 L409,1038 Q409,1053 392.5,1055.5 Q409,1058 409,1073 L409,1170 Q409,1187 426,1188.8" stroke-width="1.6"/>
<path d="M426,1223 Q409,1225 409,1243 L409,1300 Q409,1315 392.5,1318 Q409,1321 409,1336 L409,1394 Q409,1411 426,1412.5" stroke-width="1.6"/>
<line x1="483.6" y1="847.5" x2="572.5" y2="847.5"/>
<text x="524.5" y="840" font-size="19.3">P10 AUX</text>
<line x1="483.6" y1="892.5" x2="574" y2="892.5"/>
<text x="524.5" y="885" font-size="19.3">N10 AUX</text>
<line x1="483.6" y1="943.4" x2="666.7" y2="943.4"/>
<polyline points="605.7,943.4 605.7,987.2 588.7,987.2"/>
<line x1="571.9" y1="987.2" x2="589.8" y2="978.6"/>
<line x1="571.9" y1="987.2" x2="554.6" y2="987.2"/>
<rect x="536.4" y="982.4" width="18.2" height="10.6" stroke-width="1.6" fill="#fff"/>
<polyline points="536.4,987.2 518.7,987.2 518.7,1031.4"/>
<text x="569.3" y="969.4" font-size="19.3">S3</text>
<text x="566" y="1008.4" font-size="19.3">1</text>
<text x="586.5" y="1008.4" font-size="19.3">2</text>
<polygon points="666.7,927.8 666.7,1004.9 732.2,966.4" fill="none" stroke-width="1.8"/>
<line x1="670" y1="943.9" x2="680.5" y2="943.9" stroke-width="1.6"/>
<line x1="675.3" y1="938.6" x2="675.3" y2="949.2" stroke-width="1.6"/>
<line x1="670.7" y1="987.2" x2="681.1" y2="987.2" stroke-width="1.6"/>
<polyline points="666.7,987.2 636.9,987.2 636.9,1031.4"/>
<line x1="483.6" y1="1031.4" x2="694.5" y2="1031.4"/>
<circle cx="518.7" cy="1031.4" r="3.6" fill="#000" stroke="none"/>
<circle cx="636.9" cy="1031.4" r="3.6" fill="#000" stroke="none"/>
<rect x="661.2" y="1026" width="18.7" height="11.9" stroke-width="0.5" fill="#000"/>
<line x1="661.2" y1="1020.5" x2="679.9" y2="1020.5" stroke-width="1.6"/>
<line x1="694.5" y1="1024.9" x2="694.5" y2="1038.7"/>
<text x="718.7" y="1003.5" font-size="19.3">AI 1</text>
<line x1="732.2" y1="966.4" x2="769.5" y2="966.4"/>
<rect x="769.5" y="940" width="49.3" height="49.5"/>
<line x1="769.5" y1="989.5" x2="818.8" y2="940"/>
<text x="775.8" y="961.3" font-size="19.3">A</text>
<text x="801.8" y="985.5" font-size="19.3">D</text>
<line x1="818.8" y1="966.4" x2="897.5" y2="966.4"/>
<polygon points="897.5,966.4 882,960.8 882,972" fill="#000" stroke="none"/>
<text x="902" y="970.2" font-size="18">вх</text>
<line x1="483.6" y1="1078.3" x2="666.7" y2="1078.3"/>
<polyline points="605.7,1078.3 605.7,1122.1 588.7,1122.1"/>
<line x1="571.9" y1="1122.1" x2="589.8" y2="1113.5"/>
<line x1="571.9" y1="1122.1" x2="554.6" y2="1122.1"/>
<rect x="536.4" y="1117.3" width="18.2" height="10.6" stroke-width="1.6" fill="#fff"/>
<polyline points="536.4,1122.1 518.7,1122.1 518.7,1166.3"/>
<text x="569.3" y="1104.3" font-size="19.3">S3</text>
<text x="566" y="1143.3" font-size="19.3">3</text>
<text x="586.5" y="1143.3" font-size="19.3">4</text>
<polygon points="666.7,1062.7 666.7,1139.8 732.2,1101.3" fill="none" stroke-width="1.8"/>
<line x1="670" y1="1078.8" x2="680.5" y2="1078.8" stroke-width="1.6"/>
<line x1="675.3" y1="1073.5" x2="675.3" y2="1084.1" stroke-width="1.6"/>
<line x1="670.7" y1="1122.1" x2="681.1" y2="1122.1" stroke-width="1.6"/>
<polyline points="666.7,1122.1 636.9,1122.1 636.9,1166.3"/>
<line x1="483.6" y1="1166.3" x2="694.5" y2="1166.3"/>
<circle cx="518.7" cy="1166.3" r="3.6" fill="#000" stroke="none"/>
<circle cx="636.9" cy="1166.3" r="3.6" fill="#000" stroke="none"/>
<rect x="661.2" y="1160.9" width="18.7" height="11.9" stroke-width="0.5" fill="#000"/>
<line x1="661.2" y1="1155.4" x2="679.9" y2="1155.4" stroke-width="1.6"/>
<line x1="694.5" y1="1159.8" x2="694.5" y2="1173.6"/>
<text x="718.7" y="1143.4" font-size="19.3">AI 2</text>
<line x1="732.2" y1="1101.3" x2="769.5" y2="1101.3"/>
<rect x="769.5" y="1074.9" width="49.3" height="49.5"/>
<line x1="769.5" y1="1124.4" x2="818.8" y2="1074.9"/>
<text x="775.8" y="1096.2" font-size="19.3">A</text>
<text x="801.8" y="1120.4" font-size="19.3">D</text>
<line x1="818.8" y1="1101.3" x2="897.5" y2="1101.3"/>
<polygon points="897.5,1101.3 882,1095.7 882,1106.9" fill="#000" stroke="none"/>
<text x="902" y="1105.1" font-size="18">вх</text>
<line x1="483.6" y1="1241.3" x2="518.3" y2="1241.3"/>
<rect x="518.3" y="1235.9" width="18.5" height="10.8" stroke-width="1.6" fill="#fff"/>
<line x1="536.8" y1="1241.3" x2="555.5" y2="1241.3"/>
<polygon points="555.5,1241.3 622,1204.5 622,1280" fill="none" stroke-width="1.8"/>
<line x1="622" y1="1241.3" x2="695.1" y2="1241.3"/>
<rect x="695.1" y="1215.7" width="49.4" height="49.4"/>
<line x1="695.1" y1="1215.7" x2="744.5" y2="1265.1"/>
<text x="727.7" y="1236.6" font-size="19.3">D</text>
<text x="703.5" y="1261.5" font-size="19.3">A</text>
<text x="697.6" y="1205.1" font-size="19.3">AO 1</text>
<line x1="744.5" y1="1241.3" x2="795.8" y2="1241.3"/>
<polygon points="755.5,1241.3 771.2,1236.1 771.2,1246.5" fill="#000" stroke="none"/>
<line x1="795.8" y1="1241.3" x2="821.9" y2="1228.4"/>
<polyline points="817.1,1232.3 817.1,1224 898.75,1224"/>
<line x1="816.4" y1="1253.7" x2="898.75" y2="1253.7"/>
<text x="789.2" y="1202.4" font-size="19.3">S4</text>
<text x="817.8" y="1215.2" font-size="19.3">1</text>
<text x="787" y="1232" font-size="19.3">3</text>
<text x="816" y="1276" font-size="19.3">2</text>
<line x1="483.6" y1="1285.5" x2="526.3" y2="1285.5"/>
<line x1="526.3" y1="1285.5" x2="526.3" y2="1300"/>
<line x1="519.3" y1="1300" x2="533.3" y2="1300"/>
<text x="539.5" y="1295.8" font-size="19.3">M</text>
<line x1="483.6" y1="1351.3" x2="518.3" y2="1351.3"/>
<rect x="518.3" y="1345.9" width="18.5" height="10.8" stroke-width="1.6" fill="#fff"/>
<line x1="536.8" y1="1351.3" x2="555.5" y2="1351.3"/>
<polygon points="555.5,1351.3 622,1314.5 622,1389.3" fill="none" stroke-width="1.8"/>
<line x1="622" y1="1351.3" x2="695.1" y2="1351.3"/>
<rect x="695.1" y="1325.9" width="49.4" height="49.4"/>
<line x1="695.1" y1="1325.9" x2="744.5" y2="1375.3"/>
<text x="727.7" y="1346.8" font-size="19.3">D</text>
<text x="703.5" y="1371.7" font-size="19.3">A</text>
<text x="697.6" y="1315.3" font-size="19.3">AO 2</text>
<line x1="744.5" y1="1351.3" x2="795.8" y2="1351.3"/>
<polygon points="755.5,1351.3 771.2,1346.1 771.2,1356.5" fill="#000" stroke="none"/>
<line x1="795.8" y1="1351.3" x2="821.9" y2="1338.4"/>
<polyline points="817.1,1342.3 817.1,1334 898.75,1334"/>
<line x1="816.4" y1="1363.7" x2="898.75" y2="1363.7"/>
<text x="789.2" y="1312.4" font-size="19.3">S4</text>
<text x="817.8" y="1325.2" font-size="19.3">4</text>
<text x="787" y="1342" font-size="19.3">6</text>
<text x="816" y="1386" font-size="19.3">5</text>
<line x1="483.6" y1="1395" x2="526.3" y2="1395"/>
<line x1="526.3" y1="1395" x2="526.3" y2="1409.5"/>
<line x1="519.3" y1="1409.5" x2="533.3" y2="1409.5"/>
<text x="539.5" y="1405.3" font-size="19.3">M</text>
<text x="904.5" y="1223.8" font-size="19.3">-10...+10B</text>
<text x="922.5" y="1256.3" font-size="19.3">0...+20 мА</text>
<text x="904.5" y="1333.8" font-size="19.3">-10...+10 B</text>
<text x="922.5" y="1366.3" font-size="19.3">0...+20 мА</text>
<circle cx="474.4" cy="847.5" r="9.2" stroke-width="1.6" fill="#fff"/>
<line x1="467.26" y1="842.13" x2="479.77" y2="854.64" stroke-width="1.7"/>
<line x1="469.03" y1="840.36" x2="481.54" y2="852.87" stroke-width="1.7"/>
<circle cx="474.4" cy="892.5" r="9.2" stroke-width="1.6" fill="#fff"/>
<line x1="467.26" y1="887.13" x2="479.77" y2="899.64" stroke-width="1.7"/>
<line x1="469.03" y1="885.36" x2="481.54" y2="897.87" stroke-width="1.7"/>
<circle cx="474.4" cy="943.4" r="9.2" stroke-width="1.6" fill="#fff"/>
<line x1="467.26" y1="938.03" x2="479.77" y2="950.54" stroke-width="1.7"/>
<line x1="469.03" y1="936.26" x2="481.54" y2="948.77" stroke-width="1.7"/>
<circle cx="474.4" cy="1031.4" r="9.2" stroke-width="1.6" fill="#fff"/>
<line x1="467.26" y1="1026.03" x2="479.77" y2="1038.54" stroke-width="1.7"/>
<line x1="469.03" y1="1024.26" x2="481.54" y2="1036.77" stroke-width="1.7"/>
<circle cx="474.4" cy="1078.3" r="9.2" stroke-width="1.6" fill="#fff"/>
<line x1="467.26" y1="1072.93" x2="479.77" y2="1085.44" stroke-width="1.7"/>
<line x1="469.03" y1="1071.16" x2="481.54" y2="1083.67" stroke-width="1.7"/>
<circle cx="474.4" cy="1166.8" r="9.2" stroke-width="1.6" fill="#fff"/>
<line x1="467.26" y1="1161.43" x2="479.77" y2="1173.94" stroke-width="1.7"/>
<line x1="469.03" y1="1159.66" x2="481.54" y2="1172.17" stroke-width="1.7"/>
<circle cx="474.4" cy="1241.3" r="9.2" stroke-width="1.6" fill="#fff"/>
<line x1="467.26" y1="1235.93" x2="479.77" y2="1248.44" stroke-width="1.7"/>
<line x1="469.03" y1="1234.16" x2="481.54" y2="1246.67" stroke-width="1.7"/>
<circle cx="474.4" cy="1285.5" r="9.2" stroke-width="1.6" fill="#fff"/>
<line x1="467.26" y1="1280.13" x2="479.77" y2="1292.64" stroke-width="1.7"/>
<line x1="469.03" y1="1278.36" x2="481.54" y2="1290.87" stroke-width="1.7"/>
<circle cx="474.4" cy="1351.3" r="9.2" stroke-width="1.6" fill="#fff"/>
<line x1="467.26" y1="1345.93" x2="479.77" y2="1358.44" stroke-width="1.7"/>
<line x1="469.03" y1="1344.16" x2="481.54" y2="1356.67" stroke-width="1.7"/>
<circle cx="474.4" cy="1395" r="9.2" stroke-width="1.6" fill="#fff"/>
<line x1="467.26" y1="1389.63" x2="479.77" y2="1402.14" stroke-width="1.7"/>
<line x1="469.03" y1="1387.86" x2="481.54" y2="1400.37" stroke-width="1.7"/>
<polygon points="1066.7,1211.2 1085.3,1194 1085.3,1202.4 1094.4,1202.4 1094.4,1194 1114.1,1211.2 1094.4,1228.4 1094.4,1220 1085.3,1220 1085.3,1228.4" fill="#fff" stroke-width="1.6"/>
<rect x="1116.3" y="1129.9" width="38.9" height="160.6"/>
<text x="1136" y="1168.8" font-size="29" text-anchor="middle">A</text>
<text x="1136" y="1201.5" font-size="29" text-anchor="middle">S</text>
<text x="1136" y="1236.5" font-size="29" text-anchor="middle">I</text>
<text x="1136" y="1270" font-size="29" text-anchor="middle">C</text>
<text x="1240" y="1050.8" font-size="23.5" font-weight="bold">X103</text>
<rect x="1249.3" y="1064.8" width="40.8" height="385.7" stroke-width="2.2"/>
<line x1="1125.6" y1="1095.2" x2="1249.3" y2="1095.2"/>
<text x="1237.5" y="1082.4" font-size="19.7" text-anchor="end">Тахом.M</text>
<text x="1297" y="1101.3" font-size="19.3">23</text>
<line x1="1155.2" y1="1141.6" x2="1249.3" y2="1141.6"/>
<text x="1237.5" y="1128.8" font-size="19.7" text-anchor="end">Дор. A</text>
<text x="1297" y="1147.5" font-size="19.3">24</text>
<line x1="1155.2" y1="1188.8" x2="1249.3" y2="1188.8"/>
<text x="1237.5" y="1175.2" font-size="19.7" text-anchor="end">Дор. B</text>
<text x="1297" y="1193.8" font-size="19.3">25</text>
<line x1="1155.2" y1="1235.2" x2="1249.3" y2="1235.2"/>
<text x="1248" y="1224" font-size="19.7" text-anchor="end">Нул.имп.</text>
<text x="1297" y="1240.5" font-size="19.3">26</text>
<line x1="1155.2" y1="1282" x2="1249.3" y2="1282"/>
<text x="1237.5" y="1267.5" font-size="19.7" text-anchor="end">Регул.</text>
<text x="1297" y="1287" font-size="19.3">27</text>
<line x1="1125" y1="1328" x2="1249.3" y2="1328"/>
<text x="1237.5" y="1315" font-size="19.7" text-anchor="end">Тахом. P15</text>
<text x="1297" y="1333" font-size="19.3">28</text>
<line x1="1125" y1="1374.3" x2="1249.3" y2="1374.3"/>
<text x="1237.5" y="1361.3" font-size="19.7" text-anchor="end">Темп. двиг. BS</text>
<text x="1297" y="1379.5" font-size="19.3">29</text>
<line x1="1125" y1="1421.3" x2="1249.3" y2="1421.3"/>
<text x="1237.5" y="1407.5" font-size="19.7" text-anchor="end">Темп. двиг.</text>
<text x="1297" y="1426.3" font-size="19.3">30</text>
<circle cx="1269.6" cy="1095.2" r="9.2" stroke-width="1.6" fill="#fff"/>
<line x1="1262.46" y1="1089.83" x2="1274.97" y2="1102.34" stroke-width="1.7"/>
<line x1="1264.23" y1="1088.06" x2="1276.74" y2="1100.57" stroke-width="1.7"/>
<circle cx="1269.6" cy="1141.6" r="9.2" stroke-width="1.6" fill="#fff"/>
<line x1="1262.46" y1="1136.23" x2="1274.97" y2="1148.74" stroke-width="1.7"/>
<line x1="1264.23" y1="1134.46" x2="1276.74" y2="1146.97" stroke-width="1.7"/>
<circle cx="1269.6" cy="1188" r="9.2" stroke-width="1.6" fill="#fff"/>
<line x1="1262.46" y1="1182.63" x2="1274.97" y2="1195.14" stroke-width="1.7"/>
<line x1="1264.23" y1="1180.86" x2="1276.74" y2="1193.37" stroke-width="1.7"/>
<circle cx="1269.6" cy="1234.5" r="9.2" stroke-width="1.6" fill="#fff"/>
<line x1="1262.46" y1="1229.13" x2="1274.97" y2="1241.64" stroke-width="1.7"/>
<line x1="1264.23" y1="1227.36" x2="1276.74" y2="1239.87" stroke-width="1.7"/>
<circle cx="1269.6" cy="1280.5" r="9.2" stroke-width="1.6" fill="#fff"/>
<line x1="1262.46" y1="1275.13" x2="1274.97" y2="1287.64" stroke-width="1.7"/>
<line x1="1264.23" y1="1273.36" x2="1276.74" y2="1285.87" stroke-width="1.7"/>
<circle cx="1269.6" cy="1327" r="9.2" stroke-width="1.6" fill="#fff"/>
<line x1="1262.46" y1="1321.63" x2="1274.97" y2="1334.14" stroke-width="1.7"/>
<line x1="1264.23" y1="1319.86" x2="1276.74" y2="1332.37" stroke-width="1.7"/>
<circle cx="1269.6" cy="1373.8" r="9.2" stroke-width="1.6" fill="#fff"/>
<line x1="1262.46" y1="1368.43" x2="1274.97" y2="1380.94" stroke-width="1.7"/>
<line x1="1264.23" y1="1366.66" x2="1276.74" y2="1379.17" stroke-width="1.7"/>
<circle cx="1269.6" cy="1420.5" r="9.2" stroke-width="1.6" fill="#fff"/>
<line x1="1262.46" y1="1415.13" x2="1274.97" y2="1427.64" stroke-width="1.7"/>
<line x1="1264.23" y1="1413.36" x2="1276.74" y2="1425.87" stroke-width="1.7"/>
<path d="M1311.3,1074.5 Q1328.8,1078 1328.8,1096 L1328.8,1180 Q1328.8,1203 1346.3,1208.8 Q1328.8,1214 1328.8,1237 L1328.8,1320 Q1328.8,1339 1311.3,1341.3" stroke-width="1.6"/>
<text x="1356" y="1131" font-size="19.3">Имп.</text>
<text x="1347" y="1153.4" font-size="19.3">датчик</text>
<text x="1339.6" y="1180.4" font-size="19.3">I</text>
<text x="1343.8" y="1183.7" font-size="19">≤</text>
<text transform="translate(1355 1180.4) scale(0.87 1)" font-size="19.5">190</text>
<text x="1390" y="1177.2" font-size="19.3">мА</text>
<text x="1362" y="1372.5" font-size="19.3" text-anchor="middle">Датчик</text>
<text x="1362" y="1395" font-size="19.3" text-anchor="middle">темпер.</text>
<text x="1362" y="1417" font-size="19.3" text-anchor="middle">двигат.</text>
<text x="1362" y="1443.8" font-size="19.3" text-anchor="middle">KTY84</text>
<text x="1362" y="1462.5" font-size="19.3" text-anchor="middle">или термор.</text>
<text x="1362" y="1483.8" font-size="19.3" text-anchor="middle">с пол. TKC</text>
<path d="M1467.2,1341.9 L1492.4,1334.1 L1484.6,1304.9 L1458.9,1310.7 L1445.8,1288.1 L1463.7,1268.7 L1442.3,1247.3 L1422.9,1265.2 L1400.3,1252.1 L1406.1,1226.4 L1376.9,1218.6 L1369.1,1243.8 L1342.9,1243.8 L1335.1,1218.6 L1305.9,1226.4 L1311.7,1252.1 L1289.1,1265.2 L1269.7,1247.3 L1248.3,1268.7 L1266.2,1288.1 L1253.1,1310.7 L1227.4,1304.9 L1219.6,1334.1 L1244.8,1341.9 L1244.8,1368.1 L1219.6,1375.9 L1227.4,1405.1 L1253.1,1399.3 L1266.2,1421.9 L1248.3,1441.3 L1269.7,1462.7 L1289.1,1444.8 L1311.7,1457.9 L1305.9,1483.6 L1335.1,1491.4 L1342.9,1466.2 L1369.1,1466.2 L1376.9,1491.4 L1406.1,1483.6 L1400.3,1457.9 L1422.9,1444.8 L1442.3,1462.7 L1463.7,1441.3 L1445.8,1421.9 L1458.9,1399.3 L1484.6,1405.1 L1492.4,1375.9 L1467.2,1368.1 Z M1255.5,1355.0 A100.5,100.5 0 1 0 1456.5,1355.0 A100.5,100.5 0 1 0 1255.5,1355.0 Z M1261.0,1355.0 A95.0,95.0 0 1 0 1451.0,1355.0 A95.0,95.0 0 1 0 1261.0,1355.0 Z M1321.0,1305.0 L1339.0,1305.0 L1339.0,1349.0 L1383.0,1305.5 L1408.0,1306.0 L1365.0,1351.5 L1409.0,1407.0 L1395.0,1407.0 L1339.0,1358.0 L1339.0,1397.0 L1321.0,1397.0 L1321.0,1361.0 L1283.0,1361.0 L1283.0,1342.5 L1321.0,1342.5 Z" fill="rgb(100,130,215)" fill-opacity="0.3" fill-rule="evenodd" stroke="none"/>
</g>
</svg>
</body></html>
